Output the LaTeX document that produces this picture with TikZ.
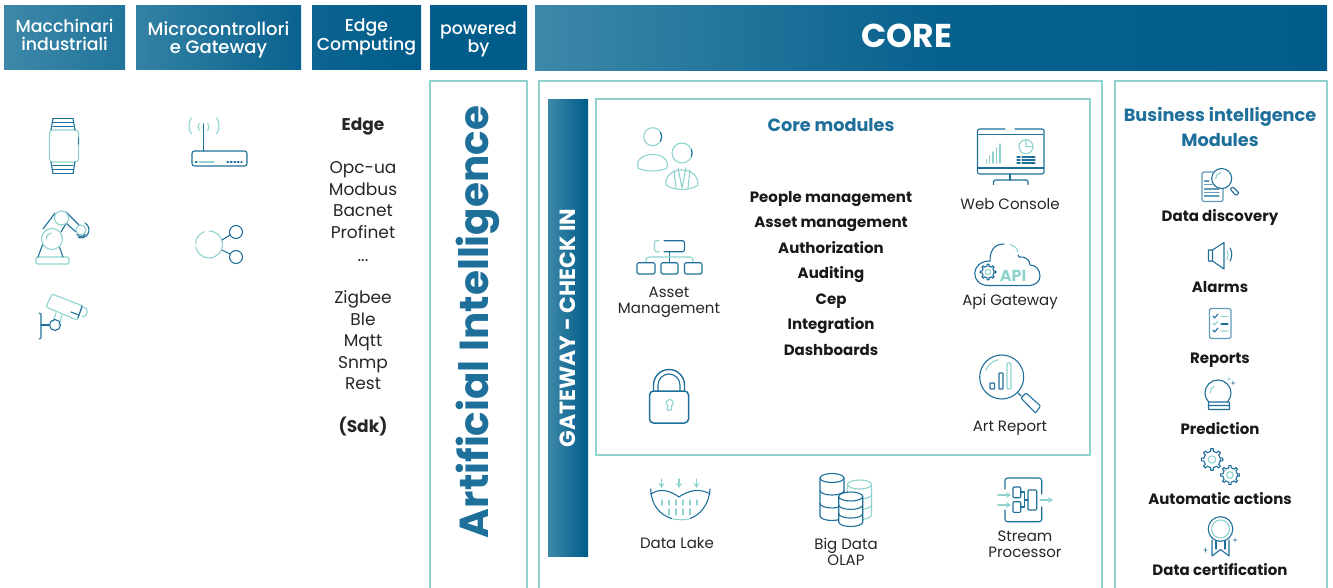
\documentclass[tikz,border=0pt]{standalone}
\usepackage{fontspec}
\setmainfont{Poppins}
\newfontfamily\medfont{Poppins Medium}
\usepackage{tikz}
\usetikzlibrary{calc}
\usetikzlibrary{arrows.meta}
\definecolor{deepblue}{HTML}{1F6F9B}
\definecolor{softteal}{HTML}{8FD2CE}
\definecolor{headlight}{HTML}{3D88A9}
\definecolor{headdark}{HTML}{005C8A}
\tikzset{
    headbox/.style = {inner sep = 0pt, minimum height = 64pt, left color = headlight, right color = headdark},
    headtext/.style = {inner sep = 0pt, text = white, align = center, font = \medfont\fontsize{17.3}{18}\selectfont},
    panel/.style = {draw = softteal, line width = 2.4pt},
    listtext/.style = {inner sep = 0pt, text height = 16pt, text depth = 2pt, text = black!85, font = \fontsize{17}{18}\selectfont},
    icontext/.style = {inner sep = 0pt, text = black!85, align = center, font = \fontsize{15}{16}\selectfont},
    boldtext/.style = {inner sep = 0pt, text height = 13pt, text depth = 2pt, text = black!90, font = \bfseries\fontsize{15}{16}\selectfont},
    titletext/.style = {inner sep = 0pt, text = deepblue, font = \bfseries\fontsize{17.7}{25}\selectfont, align = center},
    dk/.style = {draw = deepblue, line width = 1.1pt, line cap = round, line join = round},
    lt/.style = {draw = softteal, line width = 1.1pt, line cap = round, line join = round},
    tip/.style = {-{Stealth[length = 5pt, width = 6pt]}, line width = 1.3pt}
}
\newcommand{\gearicon}[3]{
    \begin{scope}[shift = {(#1,#2)}, x = #3pt, y = #3pt]
        \draw[dk] (0:1) \foreach \a in {0,45,...,315} {
            -- (\a-9:1) -- (\a-7:1.3) -- (\a+7:1.3) -- (\a+9:1) -- (\a+36:1)} -- cycle;
        \draw[lt] (0,0) circle (.45);
    \end{scope}
}
\newcommand{\sparkicon}[4]{
    \fill[#4] (#1,#2-#3) .. controls (#1,#2) .. (#1+#3,#2) .. controls (#1,#2) .. (#1,#2+#3) .. controls (#1,#2) .. (#1-#3,#2) .. controls (#1,#2) .. cycle;
}
\begin{document}
\begin{tikzpicture}[x = 1pt, y = -1pt]
    \useasboundingbox (0,0) rectangle (1333,588);
    % header row
    \node[headbox, minimum width = 121pt, right color = headlight!55!headdark] (Hmach) at (64.5,38) {};
    \node[headbox, minimum width = 165pt, left color = headlight!85!headdark, right color = headlight!15!headdark] (Hmicro) at (218.5,38) {};
    \node[headbox, minimum width = 109pt, left color = headlight!20!headdark] (Hedge) at (366.5,38) {};
    \node[headbox, minimum width = 97pt, left color = headdark] (Hpow) at (478.5,38) {};
    \node[headbox, minimum width = 792pt, minimum height = 65pt, middle color = headlight!12!headdark] (Hcore) at (931,38.5) {};
    \node[headtext] (Tmach) at (64.5,35) {Macchinari\\industriali};
    \node[headtext, font = \medfont\fontsize{18}{18}\selectfont] (Tmicro) at (218.5,40) {Microcontrollori\\e Gateway};
    \node[headtext] (Tedge) at (366.5,37) {Edge\\Computing};
    \node[headtext] (Tpow) at (478.5,39.5) {powered\\by};
    \node[inner sep = 0pt, text = white, font = \bfseries\fontsize{33}{34}\selectfont] (Tcorehead) at (907,36) {CORE};
    % panels
    \draw[panel] (430,590) -- (430,81) -- (527,81) -- (527,590);
    \draw[panel] (539,590) -- (539,81) -- (1102,81) -- (1102,590);
    \draw[panel] (1115,590) -- (1115,81) -- (1327,81) -- (1327,590);
    \draw[panel] (596,99) rectangle (1090,455);
    \node[rotate = 90, inner sep = 0pt, text = deepblue, font = \bfseries\fontsize{40.5}{42}\selectfont] (Artint) at (478,322) {Artificial Intelligence};
    \node[inner sep = 0pt, minimum width = 456pt, minimum height = 40pt, rotate = 90, left color = headlight, middle color = headlight!12!headdark, right color = headdark, text = white, font = \bfseries\fontsize{22}{23}\selectfont] (Gate) at (568,328) {GATEWAY - CHECK IN};
    % edge column
    \node[listtext, font = \bfseries\fontsize{17}{18}\selectfont] (Ledge) at (363,124) {Edge};
    \foreach \name/\ypos/\txt in {La/167/Opc-ua, Lb/189/Modbus, Lc/210/Bacnet, Ld/232/Profinet, Lf/296/Zigbee, Lg/318/Ble, Lh/339/Mqtt, Li/361/Snmp, Lj/382/Rest}
        \node[listtext] (\name) at (363,\ypos) {\txt};
    \node[listtext] (Ldots) at (363,254) {...};
    \node[listtext, font = \bfseries\fontsize{17}{18}\selectfont] (Lsdk) at (363,425) {(Sdk)};
    % core column
    \node[titletext] (Tcore) at (831,125) {Core modules};
    \foreach \name/\ypos/\txt in {Ma/197/People management, Mb/222/Asset management, Mc/248/Authorization, Md/273/Auditing, Me/299/Cep, Mf/324/Integration, Mg/350/Dashboards}
        \node[boldtext] (\name) at (831,\ypos) {\txt};
    \node[icontext] (Tasset) at (669,302) {Asset\\Management};
    \node[icontext] (Tweb) at (1010,204) {Web Console};
    \node[icontext] (Tapi) at (1010,301.5) {Api Gateway};
    \node[icontext] (Tart) at (1010,428) {Art Report};
    \node[icontext] (Tlake) at (677,543) {Data Lake};
    \node[icontext] (Tolap) at (846,552) {Big Data\\OLAP};
    \node[icontext] (Tstream) at (1025,544) {Stream\\Processor};
    % business column
    \node[titletext] (Tbi) at (1220,127) {Business intelligence\\Modules};
    \foreach \name/\ypos/\txt in {Ba/216/Data discovery, Bb/287/Alarms, Bc/358/Reports, Bd/429/Prediction, Be/499/Automatic actions, Bf/570/Data certification}
        \node[boldtext] (\name) at (1220,\ypos) {\txt};
    % watch
    \draw[lt, rounded corners = 3pt] (49.5,130) rectangle (78.5,162);
    \draw[dk, line width = 1.5pt] (78.5,138) -- (78.5,144);
    \foreach \ypos in {118.5,122.5,126.5} \draw[dk] (53,\ypos) -- (73,\ypos);
    \foreach \ypos in {165.5,169.5,173.5} \draw[dk] (53,\ypos) -- (73,\ypos);
    \draw[dk] (53,118.5) -- (51,130) (73,118.5) -- (75,130) (53,173.5) -- (51,162) (73,173.5) -- (75,162);
    % robot arm
    \draw[lt, rounded corners = 1.5pt] (36,257) rectangle (69,264);
    \draw[dk] (38,257) -- (44,241) (63,257) -- (58,243) (43,229) -- (55,213) (61,232) -- (67,222);
    \draw[dk] (66,212) -- (79,225) (66,223) -- (76,232);
    \draw[lt, fill = white] (52,239) circle (10.5);
    \draw[lt] (46,239) arc (-180:-100:6);
    \draw[lt, fill = white] (61.5,218) circle (7);
    \draw[lt, fill = white] (81,230) circle (5);
    \draw[dk] (85,223) arc (-60:110:8) (85.2,234.5) arc (40:140:5.5);
    % camera
    \draw[lt, rounded corners = 1pt] (52,294) -- (83,306) -- (77,320) -- (46,307) -- cycle;
    \draw[lt] (84,307) .. controls (89,308) and (88,317) .. (82,317);
    \draw[dk] (82,306) -- (78,318) (71,312) -- (79,315);
    \draw[lt] (56,313) -- (53,322) (62,315) -- (59,325);
    \draw[dk] (55,325) circle (5.5);
    \draw[dk] (49,325) -- (41,325);
    \draw[dk] (39,313) -- (41,314) -- (41,338) -- (39,339);
    % router
    \draw[dk, rounded corners = 2.5pt] (192,151) rectangle (247,166);
    \draw[dk] (203.5,124) -- (203.5,151);
    \draw[lt] (191.3,133.9) arc (148:212:15) (216.7,133.9) arc (32:-32:15) (199.3,130.5) arc (140:220:5.5) (207.7,130.5) arc (40:-40:5.5);
    \draw[dk] (195.5,162) -- (197,162);
    \draw[lt] (199.5,162) -- (214,162);
    \draw[dk, dash pattern = on 1.5pt off 2pt] (227,162) -- (242,162);
    % share
    \draw[lt] (209,231) arc (-90:170:13.5) (195.55,243.3) arc (185:250:13.5);
    \draw[dk] (236,232) circle (6.5) (236,257) circle (6.5);
    \draw[dk] (222,240) -- (230,235) (222,250) -- (230,254);
    % people
    \draw[lt] (652.7,136.7) circle (9);
    \draw[dk] (660.5,132.2) arc (-30:30:9);
    \draw[lt] (638,168) .. controls (633,150) and (672,150) .. (667,168) .. controls (660,172) and (645,172) .. (638,168) -- cycle;
    \draw[lt] (682,153) circle (10);
    \draw[dk] (691.4,149.6) arc (-20:20:10);
    \draw[lt] (666,185) .. controls (664,165) and (699,165) .. (698,185) .. controls (690,191) and (674,191) .. (666,185) -- cycle;
    \draw[lt] (678,168) -- (682,188) -- (686,168) (674,170) -- (676,188) (690,170) -- (688,188);
    % asset management
    \draw[dk, rounded corners = 1.5pt] (664,240.7) -- (684.5,240.7) -- (684.5,251.7) -- (664,251.7);
    \draw[lt, rounded corners = 1.5pt] (659,251.7) -- (654.5,251.7) -- (654.5,240.7) -- (659,240.7);
    \draw[dk] (669.5,251.7) -- (669.5,262.7);
    \draw[lt, rounded corners = 3pt] (646,262.7) -- (646,257) -- (693,257) -- (693,262.7);
    \foreach \xa/\xb in {637/655, 661/678, 684.5/702}
        \draw[dk, rounded corners = 1.5pt] (\xa,262.7) rectangle (\xb,274);
    % lock
    \draw[dk, line width = 1.5pt, rounded corners = 4pt] (649.5,391) rectangle (688.5,423);
    \draw[dk, line width = 1.4pt] (653.5,391) -- (653.5,385) arc (-180:0:15.5) -- (684.5,391);
    \draw[dk] (658,391) -- (658,385) arc (-180:0:11) -- (680,391);
    \draw[lt] (667,410) -- (668,406) arc (120:420:3.5) -- (671.5,410) -- cycle;
    % web console
    \draw[dk, rounded corners = 2pt] (1005,129) -- (977.5,129) -- (977.5,174) -- (1044,174) -- (1044,129) -- (1015,129);
    \draw[dk] (979,134.5) -- (1042.5,134.5) (978,168) -- (1043.5,168) (1010,174) -- (1010,180);
    \draw[dk, rounded corners = 1.5pt] (993.5,184.5) -- (993.5,180) -- (1028,180) -- (1028,184.5);
    \foreach \xa/\ypos in {986.5/160, 989.5/156, 993/152, 996.5/148, 1000/144}
        \draw[lt, line width = 1.8pt] (\xa,163) -- (\xa,\ypos);
    \draw[lt] (1026,146.7) circle (7) (1026,139.7) -- (1026,146.7) -- (1033,146.7);
    \foreach \ypos in {157,160,163} {
        \draw[dk] (1017,\ypos) -- (1020,\ypos);
        \draw[dk] (1022,\ypos) -- (1035,\ypos);
    }
    % api gateway
    \draw[dk] (990,261) .. controls (990,252) and (993,244) .. (1004,244);
    \draw[lt] (1010,244.5) .. controls (1014,245.5) and (1017,248) .. (1018,252);
    \draw[dk] (1018,255) -- (1019,257) .. controls (1025,256) and (1030,260) .. (1030,265) .. controls (1036,265) and (1040,270) .. (1040,276) .. controls (1040,282) and (1035,285) .. (1030,285.5) -- (988,285.5) .. controls (970,285) and (970,261) .. (990,261);
    \gearicon{988}{272}{6}
    \node[inner sep = 0pt, text = softteal, font = \bfseries\fontsize{16}{16}\selectfont] (Tapilogo) at (1013,276) {API};
    % art report
    \draw[dk] (1001.7,377) circle (22);
    \draw[dk] (1018,393) -- (1021,396);
    \draw[dk, rounded corners = 1pt] (1021,398) -- (1026,393) -- (1040.5,406) -- (1035.5,413) -- cycle;
    \draw[lt] (986,370) arc (-160:-100:16);
    \draw[dk, rounded corners = .5pt] (990,383) rectangle (994.5,389) (999,373) rectangle (1003,389);
    \draw[lt, rounded corners = 1pt] (1007,363) rectangle (1011,389);
    % data lake
    \draw[dk] (650.7,494) .. controls (660,488) and (669,490) .. (679,497) .. controls (689,490) and (700,488) .. (710,494);
    \draw[dk] (650.7,489) .. controls (651,505) and (660,515) .. (671.7,518.5) (710,489) .. controls (709,505) and (700,515) .. (690,518.5);
    \draw[lt] (673,519) .. controls (678,520) and (684,520) .. (689,519);
    \foreach \xa in {661.5, 679, 696.5}
        \draw[lt, tip] (\xa,479) -- (\xa,488);
    \foreach \xa in {662, 669, 676, 683, 690, 697}
        \draw[lt] (\xa,500) -- (\xa,505);
    \foreach \xa in {669, 676, 683, 690}
        \draw[lt] (\xa,509) -- (\xa,515);
    % big data
    \foreach \xa/\ya/\yb/\sty in {859.5/484.5/515/lt, 832/478/516/dk, 850.7/496.5/522/dk} {
        \draw[\sty, fill = white] (\xa-12,\ya) -- (\xa-12,\yb) arc (180:0:12 and 4.5) -- (\xa+12,\ya) -- cycle;
        \draw[\sty, fill = white] (\xa,\ya) ellipse (12 and 4.5);
        \draw[\sty] (\xa-12,\ya*.67+\yb*.33) arc (180:0:12 and 4.5);
        \draw[\sty] (\xa-12,\ya*.33+\yb*.67) arc (180:0:12 and 4.5);
    }
    % stream processor
    \draw[dk, rounded corners = 2.5pt] (1005,489) -- (1005,478) -- (1041.7,478) -- (1041.7,494);
    \draw[dk, rounded corners = 2.5pt] (1005,510) -- (1005,521.7) -- (1041.7,521.7) -- (1041.7,507);
    \draw[lt, tip] (998,495) -- (1011,495);
    \draw[lt, tip] (998,505) -- (1011,505);
    \draw[lt, tip] (1040,500) -- (1053,500);
    \draw[dk, rounded corners = 1pt] (1013,487) rectangle (1020.7,497.7) (1013,501.7) rectangle (1020.7,512.4) (1028,490) rectangle (1036.7,510);
    \draw[dk] (1020.7,492) -- (1024.5,492) -- (1024.5,507) -- (1020.7,507) (1024.5,500) -- (1028,500);
    % data discovery
    \draw[dk, draw opacity = .7, rounded corners = 1.5pt] (1213,172) -- (1202,172) -- (1202,201.5) -- (1223,201.5) -- (1223,188);
    \foreach \ypos/\xb in {181/1209, 184.5/1212, 189/1219, 192.5/1219, 196/1219}
        \draw[dk, draw opacity = .7] (1204.5,\ypos) -- (\xb,\ypos);
    \draw[dk, fill = white] (1221.7,178.5) circle (10);
    \draw[lt] (1215.7,178.5) arc (-180:-100:6);
    \draw[dk, rounded corners = 1pt] (1230,189) -- (1233,187) -- (1239,193) -- (1236,195.5) -- cycle;
    % alarms
    \draw[dk] (1208.5,250) rectangle (1212.5,261) (1212.5,250) -- (1224,242.5) -- (1224,269) -- (1212.5,261);
    \draw[lt] (1227,251) arc (-30:30:8.5);
    \draw[dk] (1230,248) arc (-30:30:13);
    % reports
    \draw[dk, draw opacity = .7, rounded corners = 1.5pt] (1209.5,308.5) rectangle (1231,338.5);
    \draw[dk] (1213,316) -- (1214.5,318) -- (1218,314) (1213,330) -- (1214.5,332) -- (1218,328);
    \draw[lt] (1213,323) -- (1214.5,325) -- (1218,321) (1221,316.5) -- (1228,316.5) (1221,331) -- (1228,331);
    \draw[dk] (1221,324) -- (1228,324);
    % prediction
    \draw[dk] (1208.8,402.2) arc (135:405:13);
    \draw[lt] (1210,393) arc (-180:-120:8);
    \draw[dk, rounded corners = .5pt] (1208.5,402) rectangle (1229.5,409.5) (1209,405.5) -- (1229,405.5);
    \sparkicon{1229}{379}{4.5}{softteal}
    \sparkicon{1233}{383}{3}{deepblue}
    % automatic actions
    \gearicon{1212}{459.5}{8.3}
    \gearicon{1230}{475}{7.3}
    % data certification
    \draw[dk] (1220.5,529) circle (12.3);
    \draw[lt] (1220.5,529) circle (9);
    \draw[dk] (1212,540) -- (1212,556) -- (1220.5,549.5) -- (1229,556) -- (1229,540);
    \draw[dk] (1216,541) -- (1216,549) (1225,541) -- (1225,549);
    \sparkicon{1235}{540}{3}{deepblue}
    \sparkicon{1205.5}{550}{3}{deepblue}
\end{tikzpicture}
\end{document}
